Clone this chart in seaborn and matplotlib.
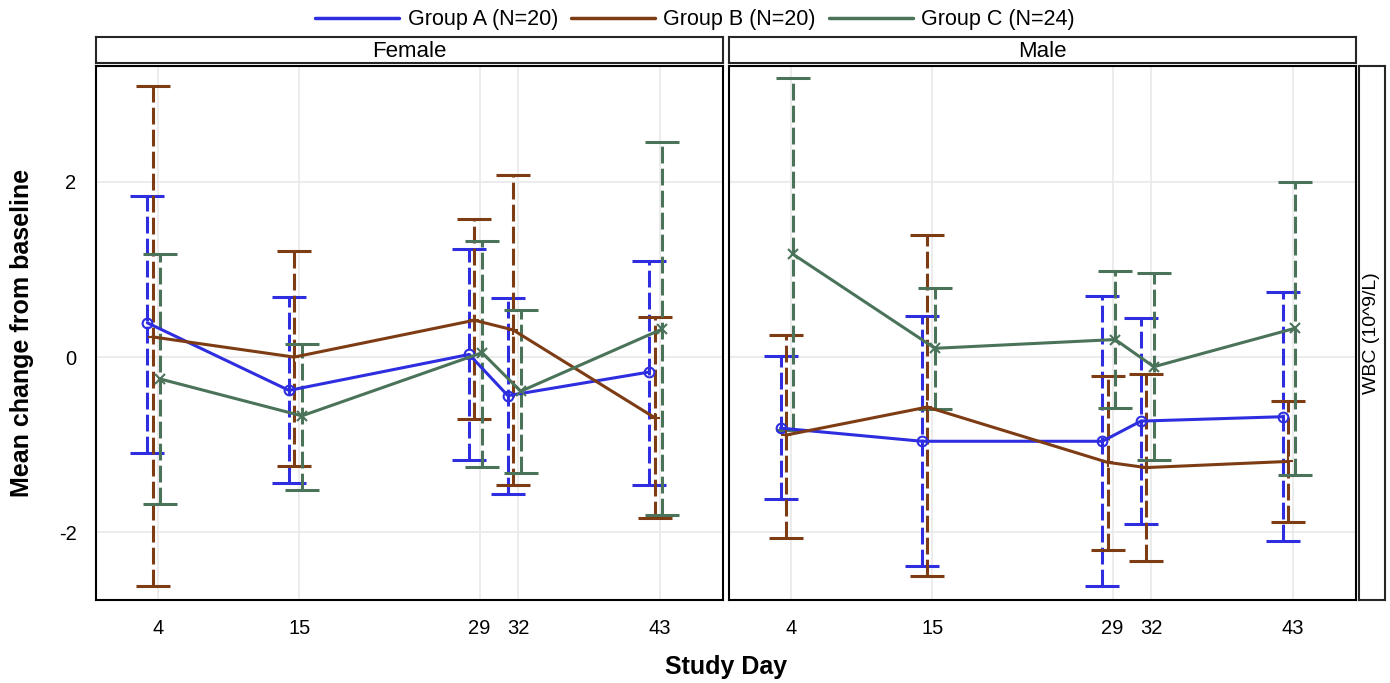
import pandas as pd
import matplotlib
matplotlib.use("Agg")
import matplotlib.pyplot as plt
import seaborn as sns
from matplotlib.lines import Line2D

# data
days = [4, 15, 29, 32, 43]
groups = ["Group A (N=20)", "Group B (N=20)", "Group C (N=24)"]
sexes = ["Female", "Male"]

# Female
f_a_mean = [0.39, -0.38, 0.03, -0.44, -0.17]
f_a_low = [-1.09, -1.44, -1.17, -1.56, -1.46]
f_a_high = [1.84, 0.68, 1.23, 0.67, 1.10]
f_b_mean = [0.23, 0.00, 0.42, 0.31, -0.69]
f_b_low = [-2.61, -1.24, -0.71, -1.46, -1.84]
f_b_high = [3.09, 1.21, 1.57, 2.08, 0.46]
f_c_mean = [-0.25, -0.67, 0.05, -0.39, 0.32]
f_c_low = [-1.67, -1.51, -1.25, -1.32, -1.80]
f_c_high = [1.18, 0.15, 1.32, 0.54, 2.45]

# Male
m_a_mean = [-0.81, -0.96, -0.96, -0.73, -0.68]
m_a_low = [-1.62, -2.38, -2.61, -1.90, -2.10]
m_a_high = [0.01, 0.47, 0.70, 0.44, 0.74]
m_b_mean = [-0.89, -0.57, -1.20, -1.26, -1.19]
m_b_low = [-2.06, -2.50, -2.20, -2.33, -1.88]
m_b_high = [0.25, 1.39, -0.22, -0.19, -0.50]
m_c_mean = [1.17, 0.10, 0.20, -0.11, 0.33]
m_c_low = [-0.83, -0.59, -0.58, -1.17, -1.34]
m_c_high = [3.18, 0.79, 0.98, 0.96, 2.00]

rows = []
series = {
    ("Female", groups[0]): (f_a_mean, f_a_low, f_a_high),
    ("Female", groups[1]): (f_b_mean, f_b_low, f_b_high),
    ("Female", groups[2]): (f_c_mean, f_c_low, f_c_high),
    ("Male", groups[0]): (m_a_mean, m_a_low, m_a_high),
    ("Male", groups[1]): (m_b_mean, m_b_low, m_b_high),
    ("Male", groups[2]): (m_c_mean, m_c_low, m_c_high),
}
for (sex, grp), (mn, lo, hi) in series.items():
    for d, m, l, h in zip(days, mn, lo, hi):
        rows.append({"sex": sex, "group": grp, "day": d, "mean": m, "low": l, "high": h})
df = pd.DataFrame(rows)

# styles
colors = {groups[0]: "#2E2EE0", groups[1]: "#7E3C14", groups[2]: "#4A735A"}
markers = {groups[0]: "o", groups[1]: "+", groups[2]: "x"}
offset = {groups[0]: -0.8, groups[1]: -0.4, groups[2]: 0.2}
df["xpos"] = df["day"] + df["group"].map(offset)

sns.set_style("white")
plt.rcParams["font.family"] = ["Liberation Sans", "DejaVu Sans"]
plt.rcParams["text.color"] = "black"
plt.rcParams["axes.labelcolor"] = "black"
plt.rcParams["xtick.color"] = "black"
plt.rcParams["ytick.color"] = "black"

fig = plt.figure(figsize=(13.9, 6.83), dpi=100)
ax_bottom, ax_h = 0.1215, 0.782
axes = [fig.add_axes([0.069, ax_bottom, 0.451, ax_h]),
        fig.add_axes([0.5245, ax_bottom, 0.451, ax_h])]

for ax, sex in zip(axes, sexes):
    sub = df[df["sex"] == sex]
    for grp in groups:
        g = sub[sub["group"] == grp]
        eb = ax.errorbar(g["xpos"], g["mean"],
                         yerr=[g["mean"] - g["low"], g["high"] - g["mean"]],
                         fmt="none", ecolor=colors[grp], elinewidth=2.2,
                         capsize=12.5, capthick=2.2, zorder=2)
        eb[2][0].set_linestyle((0, (5.5, 1.7)))
        sns.lineplot(data=g, x="xpos", y="mean", color=colors[grp], marker=markers[grp],
                     lw=2.2, markersize=7, markerfacecolor="none",
                     markeredgecolor=colors[grp], markeredgewidth=1.5,
                     ax=ax, zorder=3, sort=True)
    ax.set_xlim(-0.8, 47.9)
    ax.set_ylim(-2.77, 3.32)
    ax.set_xticks(days)
    ax.set_xticklabels([str(d) for d in days])
    ax.set_yticks([-2, 0, 2])
    ax.grid(True, color="#E9E9E9", lw=1.2)
    ax.set_axisbelow(True)
    ax.set_xlabel("")
    ax.set_ylabel("")
    ax.tick_params(axis="both", direction="out", length=7, width=1.2, labelsize=14.5, pad=7)
    for s in ax.spines.values():
        s.set_color("black")
        s.set_linewidth(1.5)
    # facet strip
    pos = ax.get_position()
    strip = fig.add_axes([pos.x0, 0.908, pos.width, 0.038])
    strip.set_xticks([])
    strip.set_yticks([])
    for s in strip.spines.values():
        s.set_linewidth(1.5)
    strip.text(0.5, 0.42, sex, ha="center", va="center", fontsize=16, transform=strip.transAxes)

axes[0].set_yticklabels(["-2", "0", "2"])
axes[1].set_yticklabels([])
axes[1].tick_params(axis="y", length=0)

# right strip
rstrip = fig.add_axes([0.978, ax_bottom, 0.0187, ax_h])
rstrip.set_xticks([])
rstrip.set_yticks([])
for s in rstrip.spines.values():
    s.set_linewidth(1.5)
rstrip.text(0.45, 0.5, "WBC (10^9/L)", rotation=90, ha="center", va="center",
            fontsize=14, transform=rstrip.transAxes)

fig.text(0.016, 0.513, "Mean change from baseline", rotation=90, ha="center", va="center",
         fontsize=18, fontweight="bold")
fig.text(0.522, 0.024, "Study Day", ha="center", va="center", fontsize=18, fontweight="bold")

handles = [Line2D([0], [0], color=colors[g], lw=2.5) for g in groups]
fig.legend(handles, groups, loc="center", bbox_to_anchor=(0.5, 0.971), ncol=3,
           frameon=False, fontsize=15.5, handlelength=3.9, columnspacing=0.6, handletextpad=0.4,
           borderpad=0.2)

fig.savefig("out.png", dpi=100)
